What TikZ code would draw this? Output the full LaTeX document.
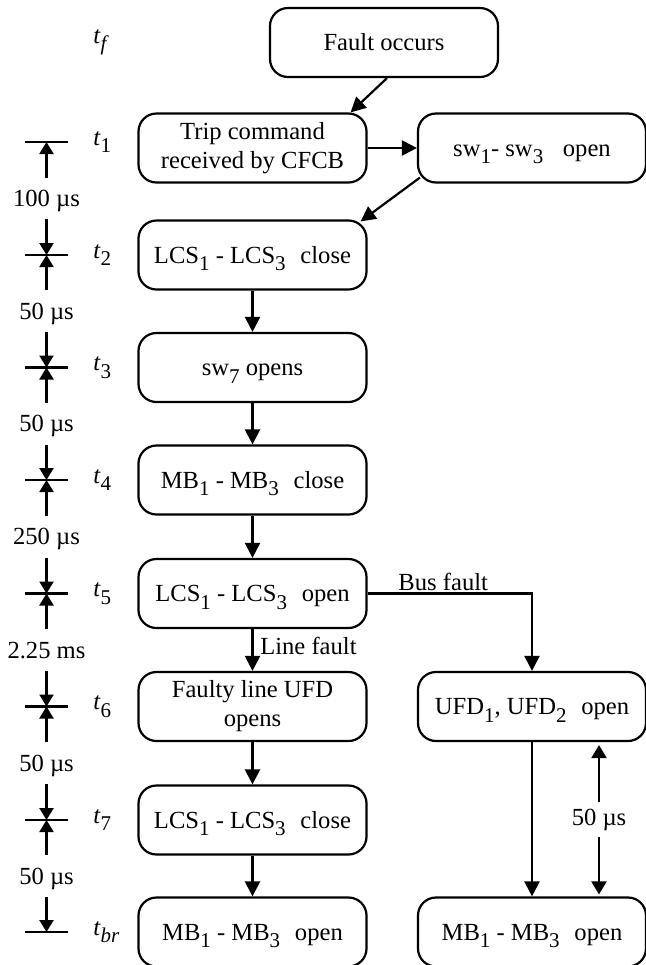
\documentclass[tikz,border=0pt]{standalone}
\usepackage{fontspec}
\setmainfont{Liberation Serif}
\usetikzlibrary{arrows.meta,calc}

\newcommand{\idx}[1]{\raisebox{-3.8pt}{\fontsize{10.5}{10.5}\selectfont #1}}
\newcommand{\gap}{\hspace{0.6em}}

\begin{document}
\begin{tikzpicture}
    [
    x                       = 0.5pt,
    y                       = -0.5pt,
    every node/.style       = {font=\fontsize{12.3}{14.5}\selectfont},
    state/.style            = {rectangle, rounded corners=9pt, draw, line width=1.1pt,
                               minimum width=114pt, minimum height=34.5pt, align=center,
                               text height=8.1pt, text depth=0pt},
    state2/.style           = {state, text height=, text depth=},
    flow/.style             = {-{Triangle[length=7.5pt,width=7.5pt]}, line width=1.1pt},
    timespan/.style         = {-{Triangle[length=6pt,width=7pt]}, line width=1.1pt},
    gaplabel/.style         = {inner sep=0pt, minimum height=20.5pt, text height=8.1pt, text depth=0pt},
    tick/.style             = {line width=1.1pt}
    ]
    \useasboundingbox (0,0) rectangle (646,965);

    \node [state]  (fault)      at (384,42.5)    {Fault occurs};
    \node [state2] (trip)       at (252.5,148)   {Trip command\\received by CFCB};
    \node [state]  (swopen)     at (532,148)     {sw\idx{1}- sw\idx{3}\hspace{0.8em}open};
    \node [state]  (lcsclose)   at (252.5,255)   {LCS\idx{1} - LCS\idx{3}\gap close};
    \node [state]  (swseven)    at (252.5,367.5) {sw\idx{7} opens};
    \node [state]  (mbclose)    at (252.5,480)   {MB\idx{1} - MB\idx{3}\gap close};
    \node [state]  (lcsopen)    at (252.5,593.5) {LCS\idx{1} - LCS\idx{3}\gap open};
    \node [state2] (faulty)     at (252.5,706.5) {Faulty line UFD\\opens};
    \node [state]  (lcsreclose) at (252.5,820)   {LCS\idx{1} - LCS\idx{3}\gap close};
    \node [state]  (mbopen)     at (252.5,932)   {MB\idx{1} - MB\idx{3}\gap open};
    \node [state]  (ufdopen)    at (532,706.5)   {UFD\idx{1}, UFD\idx{2}\gap open};
    \node [state]  (busmbopen)  at (532,932)     {MB\idx{1} - MB\idx{3}\gap open};

    \draw [flow] ([shift={(3,0)}]fault.south) -- ([shift={(-17,0)}]trip.north east);
    \draw [flow] (trip) -- (swopen);
    \draw [flow] ([shift={(3,-6)}]swopen.south west) -- ([shift={(-7,2)}]lcsclose.north east);
    \draw [flow] (lcsclose) -- (swseven);
    \draw [flow] (swseven) -- (mbclose);
    \draw [flow] (mbclose) -- (lcsopen);
    \draw [flow] (lcsopen) -- node [right, pos=0.4] {Line fault} (faulty);
    \draw [flow] (lcsopen) -| node [above, pos=0.23, inner sep=1pt] {Bus fault} (ufdopen);
    \draw [flow] (faulty) -- (lcsreclose);
    \draw [flow] (lcsreclose) -- (mbopen);
    \draw [flow] (ufdopen) -- (busmbopen);
    \draw [{Triangle[length=6.5pt,width=7.5pt]}-{Triangle[length=6.5pt,width=7.5pt]}, line width=1.1pt]
        ([shift={(67,3)}]ufdopen.south) -- node [fill=white] {50 µs} ([shift={(67,-2)}]busmbopen.north);

    \node [anchor=west, inner sep=0pt] (tf) at (93,42.5) {\textit{t}\idx{\textit{f}}};
    \foreach \n/\y/\s in {1/142/1, 2/255/2, 3/367.5/3, 4/480/4, 5/593.5/5, 6/706.5/6, 7/820/7, br/932/\textit{br}} {
        \coordinate (T\n) at (46.5,\y);
        \draw [tick] ([shift={(-21.5,0)}]T\n) -- ([shift={(21.5,0)}]T\n);
        \node [anchor=west, inner sep=0pt] (t\n) at (93,\y) {\textit{t}\idx{\s}};
    }
    \foreach \a/\b/\d in {1/2/100 µs, 2/3/50 µs, 3/4/50 µs, 4/5/250 µs, 5/6/2.25 ms, 6/7/50 µs, 7/br/50 µs} {
        \node [gaplabel] (d\a) at ($(T\a)!0.5!(T\b)$) {\d};
        \draw [timespan] (d\a.north) -- (T\a);
        \draw [timespan] (d\a.south) -- (T\b);
    }
\end{tikzpicture}
\end{document}
